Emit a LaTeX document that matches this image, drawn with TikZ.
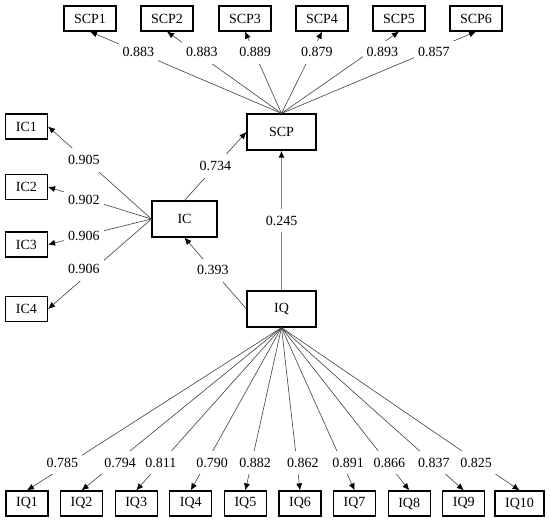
\documentclass[tikz,border=0pt]{standalone}
\usepackage{fontspec}
\setmainfont{Liberation Serif}
\usetikzlibrary{arrows.meta}

\tikzset{
  latent/.style={draw, line width=1.2pt, minimum width=69pt, minimum height=36pt, inner sep=0pt},
  item/.style={draw, line width=1.2pt, minimum width=42pt, minimum height=25pt, inner sep=0pt},
  load/.style={draw=black!75, line width=0.6pt, -{Latex[length=7pt,width=6pt,color=black]}},
  coef/.style={fill=white, inner xsep=4pt, inner ysep=7pt},
}

\begin{document}
\begin{tikzpicture}[x=1pt,y=-1pt,font=\fontsize{14}{16}\selectfont]
    \useasboundingbox (0,0) rectangle (550,521);
    \node[latent] (SCP) at (281.5,132) {SCP};
    \node[latent, minimum width=65pt] (IC) at (184.5,219) {IC};
    \node[latent] (IQ) at (281.5,309) {IQ};

    \foreach \i/\x/\v/\dx in {1/90/0.883/0, 2/167/0.883/6, 3/245/0.889/1,
        4/322/0.879/5, 5/399/0.893/13, 6/476/0.857/7} {
      \node[item, minimum width=52pt] (SCP\i) at (\x,18.5) {SCP\i};
      \draw[load] (SCP.north) -- node[coef, pos=0.747, xshift=\dx pt] {\v} (SCP\i.south);
    }
    \foreach \i/\y/\v/\dy in {1/126.5/0.905/-1.5, 2/187/0.902/-2,
        3/244.5/0.906/0, 4/309/0.906/9} {
      \node[item] (IC\i) at (26.5,\y) {IC\i};
      \draw[load] (IC.west) -- node[coef, pos=0.654, yshift=\dy pt] {\v} (IC\i.east);
    }
    \foreach \i/\x/\w/\v/\dx in {1/27/42/0.785/-8, 2/81.6/42/0.794/4.5, 3/136.2/42/0.811/0,
        4/190.8/42/0.790/6, 5/245.4/42/0.882/3.5, 6/300/42/0.862/6, 7/354.6/42/0.891/6,
        8/409.2/42/0.866/2, 9/463.8/42/0.837/1, 10/519.5/49/0.825/-3} {
      \node[item, minimum width=\w pt] (IQ\i) at (\x,503.5) {IQ\i};
      \draw[load] (IQ.south) -- node[coef, pos=0.83, xshift=\dx pt] {\v} (IQ\i.north);
    }

    \draw[load] (IC.north) -- node[coef] {0.734} (SCP.west);
    \draw[load] (IQ.west) -- node[coef, pos=0.54] {0.393} (IC.south);
    \draw[load, draw=black!50, line width=1.5pt] (IQ.north) -- node[coef] {0.245} (SCP.south);
\end{tikzpicture}
\end{document}
